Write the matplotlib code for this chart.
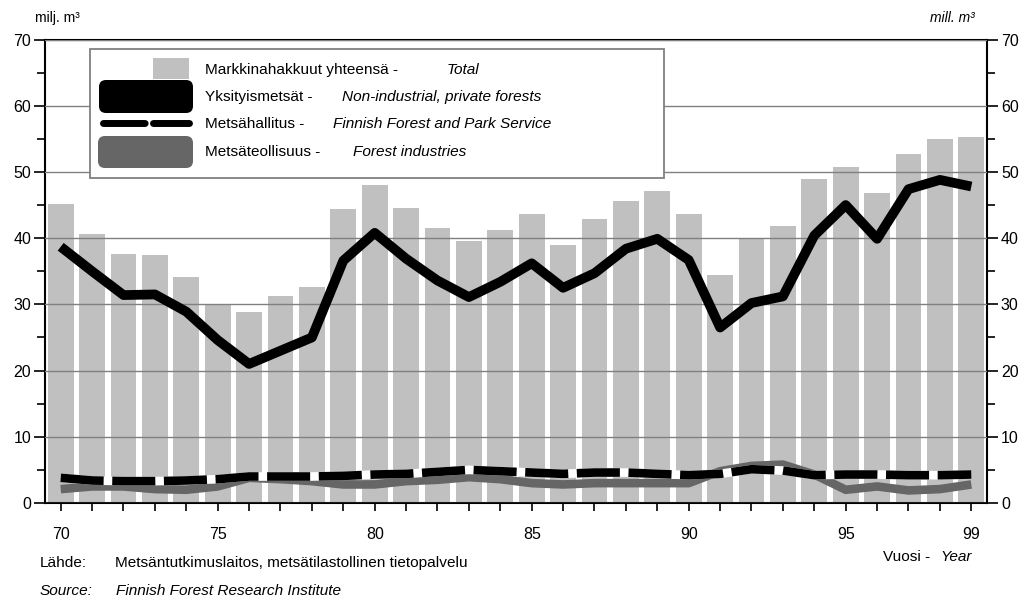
import matplotlib
matplotlib.use("Agg")
import matplotlib.pyplot as plt
from matplotlib.patches import Rectangle, FancyBboxPatch
from matplotlib.ticker import MultipleLocator

plt.rcParams['font.family'] = ['Liberation Sans', 'DejaVu Sans']

# data (milj. m3)
years = list(range(1970, 2000))
total = [45.1, 40.6, 37.6, 37.4, 34.1, 30.0, 28.9, 31.2, 32.6, 44.4,
         48.1, 44.6, 41.6, 39.6, 41.3, 43.6, 38.9, 42.9, 45.6, 47.1,
         43.6, 34.5, 40.0, 41.9, 49.0, 50.7, 46.8, 52.7, 55.0, 55.2]
private = [38.7, 35.0, 31.4, 31.5, 28.9, 24.6, 21.0, 23.0, 25.0, 36.6,
           40.8, 36.9, 33.6, 31.1, 33.4, 36.2, 32.5, 34.7, 38.4, 39.9,
           36.7, 26.5, 30.2, 31.2, 40.4, 45.0, 39.9, 47.4, 48.8, 47.8]
state = [3.8, 3.4, 3.3, 3.3, 3.4, 3.6, 4.0, 4.0, 4.0, 4.1,
         4.3, 4.4, 4.7, 5.0, 4.8, 4.6, 4.4, 4.6, 4.6, 4.4,
         4.2, 4.4, 5.1, 4.9, 4.2, 4.3, 4.3, 4.2, 4.2, 4.3]
industry = [2.1, 2.5, 2.5, 2.1, 2.0, 2.5, 3.8, 3.6, 3.3, 2.8,
            2.8, 3.3, 3.5, 3.9, 3.6, 3.0, 2.8, 3.0, 3.0, 3.0,
            3.0, 4.8, 5.6, 5.8, 4.3, 2.0, 2.5, 1.9, 2.1, 2.8]
xtick_years = [1970, 1975, 1980, 1985, 1990, 1995, 1999]
xtick_text = ["70", "75", "80", "85", "90", "95", "99"]

W, H = 1025, 603
fig = plt.figure(figsize=(W / 100, H / 100), dpi=100)
ax = fig.add_axes([45 / W, 100 / H, 942 / W, 463.5 / H])

ax.bar(years, total, width=0.82, color="#c0c0c0", zorder=1)
ax.yaxis.grid(True, color="#808080", linewidth=1.0, zorder=2)
ax.set_axisbelow(False)
ax.plot(years, industry, color="#666666", linewidth=6.2, solid_capstyle="butt", zorder=3)
ax.plot(years, state, color="white", linewidth=6.2, solid_capstyle="butt", zorder=4)
ax.plot(years, state, color="black", linewidth=6.2, dashes=(5, 1), dash_capstyle="butt", zorder=5)
ax.plot(years, private, color="black", linewidth=7, solid_capstyle="butt",
        solid_joinstyle="round", zorder=6)

ax.set_xlim(1969.5, 1999.5)
ax.set_ylim(0, 70)
ax.set_yticks(range(0, 71, 10))
ax.yaxis.set_minor_locator(MultipleLocator(5))
ax.set_xticks(years)
ax.set_xticklabels([xtick_text[xtick_years.index(y)] if y in xtick_years else "" for y in years])
ax.tick_params(axis="y", which="both", left=True, right=True, labelleft=True, labelright=True,
               direction="out", width=1.2, labelsize=11.5, pad=2)
ax.tick_params(axis="y", which="major", length=8)
ax.tick_params(axis="y", which="minor", length=6)
ax.tick_params(axis="x", direction="out", length=6, width=1.2, labelsize=11.5, pad=11)
for s in ax.spines.values():
    s.set_linewidth(1.5)
    s.set_color("black")

# overlay in pixel coordinates for legend box and captions
ov = fig.add_axes([0, 0, 1, 1], zorder=10)
ov.set_xlim(0, W)
ov.set_ylim(H, 0)
ov.axis("off")
ov.patch.set_alpha(0)

ov.add_patch(Rectangle((90, 49), 574, 129, facecolor="white", edgecolor="#808080", linewidth=1.3))
ov.add_patch(Rectangle((153, 58), 36, 21, facecolor="#c0c0c0", edgecolor="none"))
ov.add_patch(FancyBboxPatch((99, 80), 94, 33, boxstyle="round,pad=0,rounding_size=7",
                            facecolor="black", edgecolor="none"))
ov.plot([103, 189], [123, 123], color="black", linewidth=5.0, dashes=(6, 1.2),
        dash_capstyle="round")
ov.add_patch(FancyBboxPatch((98, 136), 95, 32, boxstyle="round,pad=0,rounding_size=7",
                            facecolor="#666666", edgecolor="none"))

fs = 11.1
rows = [(70, "Markkinahakkuut yhteensä -", 447, "Total"),
        (97, "Yksityismetsät -", 342, "Non-industrial, private forests"),
        (124, "Metsähallitus -", 333, "Finnish Forest and Park Service"),
        (152, "Metsäteollisuus -", 353, "Forest industries")]
for y, fi, xe, en in rows:
    ov.text(205, y, fi, fontsize=fs, va="center", ha="left")
    ov.text(xe, y, en, fontsize=fs, va="center", ha="left", style="italic")

ov.text(35, 18, "milj. m³", fontsize=10, va="center", ha="left")
ov.text(975, 18, "mill. m³", fontsize=10, va="center", ha="right", style="italic")

ov.text(40, 563, "Lähde:", fontsize=fs, va="center", ha="left")
ov.text(115, 563, "Metsäntutkimuslaitos, metsätilastollinen tietopalvelu", fontsize=fs,
        va="center", ha="left")
ov.text(40, 591, "Source:", fontsize=fs, va="center", ha="left", style="italic")
ov.text(116, 591, "Finnish Forest Research Institute", fontsize=fs, va="center", ha="left",
        style="italic")
ov.text(883, 557, "Vuosi -", fontsize=fs, va="center", ha="left")
ov.text(940, 557, "Year", fontsize=fs, va="center", ha="left", style="italic")

fig.savefig("out.png", dpi=100)
